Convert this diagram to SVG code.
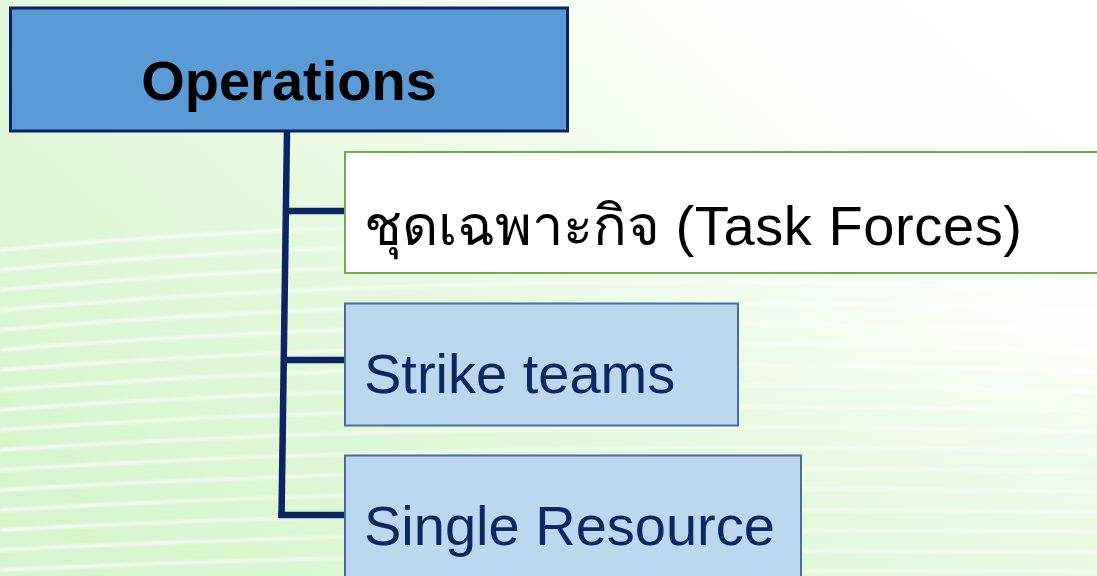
<svg xmlns="http://www.w3.org/2000/svg" width="1097" height="576" viewBox="0 0 1097 576">
  <defs>
    <linearGradient id="bg" x1="0" y1="0.8" x2="1" y2="0.2">
      <stop offset="0" stop-color="#d3f6ca"/>
      <stop offset="0.35" stop-color="#e2f9db"/>
      <stop offset="0.7" stop-color="#f6fef3"/>
      <stop offset="1" stop-color="#ffffff"/>
    </linearGradient>
    <linearGradient id="bgv" x1="0" y1="0" x2="0" y2="1">
      <stop offset="0" stop-color="#ffffff" stop-opacity="0"/>
      <stop offset="0.6" stop-color="#d8f6cf" stop-opacity="0"/>
      <stop offset="1" stop-color="#d8f6cf" stop-opacity="0.45"/>
    </linearGradient>
    <linearGradient id="stripeFade" x1="0" y1="0" x2="1" y2="0">
      <stop offset="0" stop-color="#ffffff" stop-opacity="0.8"/>
      <stop offset="0.6" stop-color="#ffffff" stop-opacity="0.45"/>
      <stop offset="1" stop-color="#ffffff" stop-opacity="0.6"/>
    </linearGradient>
    <filter id="soft" x="-5%" y="-5%" width="110%" height="110%">
      <feGaussianBlur stdDeviation="1.3"/>
    </filter>
  </defs>
  <style>
    .stripe { fill: none; stroke: url(#stripeFade); stroke-width: 3.5; }
    .conn { fill: none; stroke: #0a2464; stroke-width: 6.5; stroke-linecap: butt; stroke-linejoin: miter; }
    .lbl { font-family: "Liberation Sans", Arial, "DejaVu Sans", sans-serif; font-size: 56px; }
    .child { fill: #bdd7ee; stroke: #41719c; stroke-width: 2; }
    .childtxt { fill: #0d2760; }
  </style>

  <rect x="0" y="0" width="1097" height="576" fill="url(#bg)"/>
  <rect x="0" y="0" width="1097" height="576" fill="url(#bgv)"/>
  <g id="background-stripes" filter="url(#soft)">
    <path class="stripe" d="M0,250 C300,222 700,212 1097,232"/>
    <path class="stripe" d="M0,270 C300,242 700,232 1097,252"/>
    <path class="stripe" d="M0,290 C300,262 700,252 1097,272"/>
    <path class="stripe" d="M0,310 C300,283 700,273 1097,292"/>
    <path class="stripe" d="M0,330 C300,304 700,294 1097,312"/>
    <path class="stripe" d="M0,350 C300,325 700,315 1097,332"/>
    <path class="stripe" d="M0,370 C300,346 700,336 1097,352"/>
    <path class="stripe" d="M0,390 C300,367 700,357 1097,372"/>
    <path class="stripe" d="M0,410 C300,388 700,378 1097,392"/>
    <path class="stripe" d="M0,430 C300,409 700,400 1097,412"/>
    <path class="stripe" d="M0,450 C300,430 700,421 1097,432"/>
    <path class="stripe" d="M0,470 C300,451 700,442 1097,452"/>
    <path class="stripe" d="M0,490 C300,472 700,463 1097,472"/>
    <path class="stripe" d="M0,510 C300,493 700,484 1097,492"/>
    <path class="stripe" d="M0,530 C300,514 700,506 1097,512"/>
    <path class="stripe" d="M0,550 C300,535 700,527 1097,532"/>
    <path class="stripe" d="M0,570 C300,556 700,548 1097,552"/>
    <path class="stripe" d="M0,590 C300,577 700,569 1097,572"/>
  </g>

  <g id="connectors">
    <path class="conn" d="M287,131 L281.5,518"/>
    <path class="conn" d="M286,211 L345,211"/>
    <path class="conn" d="M284,360 L345,360"/>
    <path class="conn" d="M278.5,515 L345,515"/>
  </g>

  <g id="node-operations">
    <rect x="10.5" y="8" width="557" height="123" fill="#5b9bd5" stroke="#0b2161" stroke-width="3"/>
    <text class="lbl" x="289" y="100" text-anchor="middle" font-weight="bold" font-size="55" fill="#000000">Operations</text>
  </g>

  <g id="node-task-forces">
    <rect x="345" y="152" width="760" height="121" fill="#ffffff" stroke="#70ad47" stroke-width="2"/>
    <text class="lbl" x="364" y="245" fill="#000000">ชุดเฉพาะกิจ <tspan letter-spacing="0.6">(Task Forces)</tspan></text>
  </g>

  <g id="node-strike-teams">
    <rect class="child" x="345" y="303.5" width="393" height="122"/>
    <text class="lbl childtxt" x="364" y="393">Strike teams</text>
  </g>

  <g id="node-single-resource">
    <rect class="child" x="345" y="455.5" width="456" height="130"/>
    <text class="lbl childtxt" x="364" y="545">Single Resource</text>
  </g>
</svg>
